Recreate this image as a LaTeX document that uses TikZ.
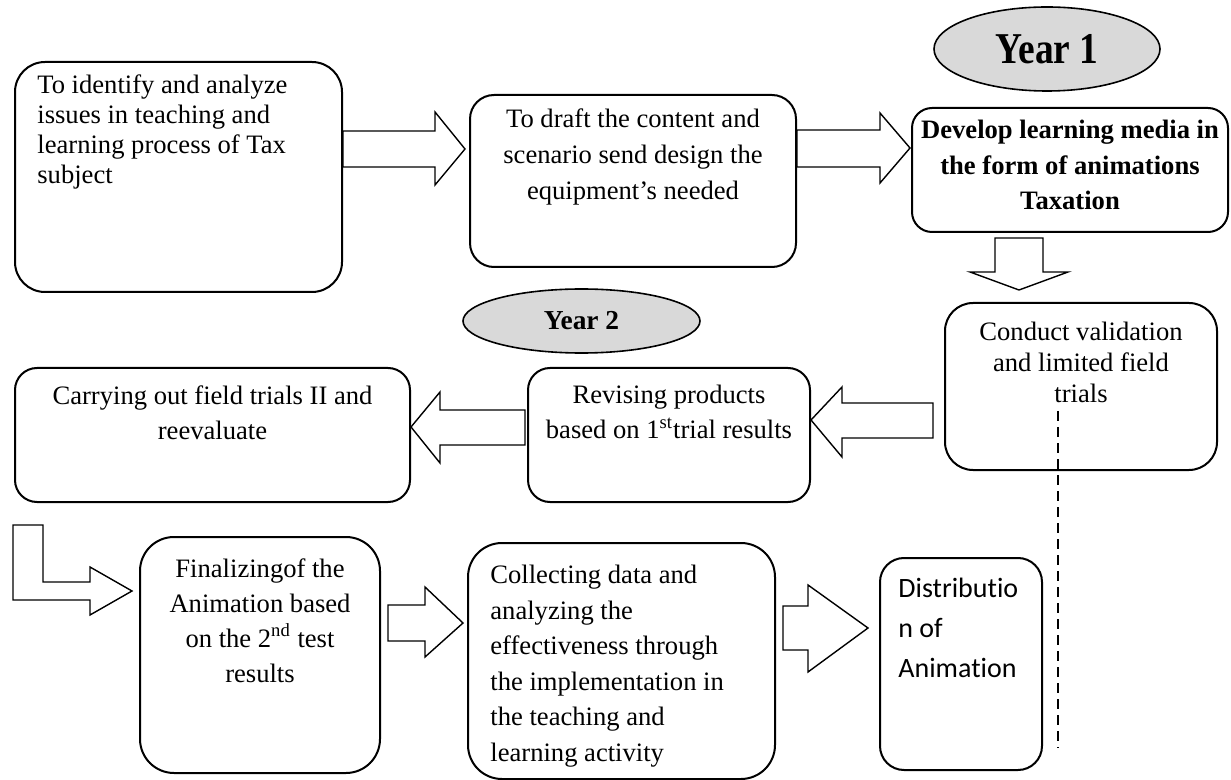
\documentclass[tikz,border=0pt]{standalone}
\usepackage{fontspec}
\setmainfont{Liberation Serif}
\newfontfamily\calibri[Ligatures=NoCommon]{Carlito}
\newfontfamily\tallserif[FakeStretch=0.85]{Liberation Serif}
\usetikzlibrary{shapes.geometric}

\tikzset{
  box/.style={draw, line width=1pt, rounded corners=#1},
  box/.default=12pt,
  blockarrow/.style={draw, line width=0.7pt, fill=white, line join=miter},
  yearoval/.style={draw, ellipse, fill=black!15, line width=0.8pt, inner sep=0pt},
  txt/.style={inner sep=0pt, anchor=north, font=\fontsize{13.3}{#1}\selectfont},
  txt/.default=17.5,
  dashline/.style={line width=0.7pt, dash pattern=on 5pt off 3pt}
}

\begin{document}
\begin{tikzpicture}[x=0.5pt, y=-0.5pt]
\useasboundingbox (0,0) rectangle (1231,780);

\node [box=15pt, minimum width=163.5pt, minimum height=115pt] (boxA) at (178.5,177) {};
\node [box, minimum width=163pt, minimum height=86pt] (boxB) at (633,181) {};
\node [box=10pt, minimum width=158pt, minimum height=62pt] (boxC) at (1070,170) {};
\node [box=14pt, minimum width=136pt, minimum height=83.5pt] (boxD) at (1081,386.5) {};
\node [box=11pt, minimum width=141pt, minimum height=67pt] (boxE) at (669,435) {};
\node [box=11pt, minimum width=197.5pt, minimum height=67pt] (boxF) at (212.5,435) {};
\node [box=17pt, minimum width=120pt, minimum height=118pt] (boxG) at (260,655) {};
\node [box=17pt, minimum width=153.5pt, minimum height=118pt] (boxH) at (621.5,661) {};
\node [box, minimum width=81pt, minimum height=106pt] (boxI) at (961,664) {};

\node [yearoval, minimum width=113pt, minimum height=42pt, font=\tallserif\bfseries\fontsize{22}{26}\selectfont] (year1) at (1047,49) {Year 1};
\node [yearoval, minimum width=118.5pt, minimum height=32pt, font=\bfseries\fontsize{13.7}{16}\selectfont] (year2) at (581.5,321) {Year 2};

\node [txt=15, anchor=north west, align=left] (textA) at (37,74) {To identify and analyze\\issues in teaching and\\learning process of Tax\\subject};
\node [txt=18, align=center] (textB) at (633,108) {To draft the content and\\scenario send design the\\equipment's needed};
\node [txt=17.75, align=center] (textC) at (1070,120) {\bfseries Develop learning media in\\\bfseries the form of animations\\\bfseries Taxation};
\node [txt=15.5, align=center] (textD) at (1081,322) {Conduct validation\\and limited field\\trials};
\node [txt, align=center] (textE) at (669,385) {Revising products\\based on 1\textsuperscript{st}trial results};
\node [txt, align=center] (textF) at (212.5,385) {Carrying out field trials II and\\reevaluate};
\node [txt, align=center] (textG) at (260,558) {Finalizingof the\\Animation based\\on the 2\textsuperscript{nd} test\\results};
\node [txt=17.75, anchor=north west, align=left] (textH) at (490,565) {Collecting data and\\analyzing the\\effectiveness through\\the implementation in\\the teaching and\\learning activity};
\node [inner sep=0pt, anchor=north west, align=left, font=\calibri\fontsize{14}{20}\selectfont] (textI) at (898,578) {Distributio\\n of\\Animation};

\draw [blockarrow] (boxA.east |- 0,131) -- (435,131) -- (435,112) -- (465,149) -- (435,185) -- (435,167) -- (boxA.east |- 0,167) -- cycle;
\draw [blockarrow] (boxB.east |- 0,130) -- (880,130) -- (880,113) -- (910,148) -- (880,183) -- (880,167) -- (boxB.east |- 0,167) -- cycle;
\draw [blockarrow] (995,238) -- (995,272) -- (970,272) -- (1019,290) -- (1068,272) -- (1043,272) -- (1043,238) -- cycle;
\draw [blockarrow] (933,403) -- (842,403) -- (842,387) -- (boxE.east |- 0,420) -- (842,457) -- (842,438) -- (933,438) -- cycle;
\draw [blockarrow] (525,410) -- (440,410) -- (440,392) -- (boxF.east |- 0,427) -- (440,463) -- (440,445) -- (525,445) -- cycle;
\draw [blockarrow] (13,525) -- (43,525) -- (43,582) -- (90,582) -- (90,567) -- (132,591) -- (90,615) -- (90,600) -- (13,600) -- cycle;
\draw [blockarrow] (388,605) -- (425,605) -- (425,587) -- (463,623) -- (425,657) -- (425,641) -- (388,641) -- cycle;
\draw [blockarrow] (783,606) -- (808,606) -- (808,585) -- (868,628) -- (808,672) -- (808,650) -- (783,650) -- cycle;

\draw [dashline] (boxD.south -| 1058,0) ++(0,-60) -- (1058,748);
\end{tikzpicture}
\end{document}
